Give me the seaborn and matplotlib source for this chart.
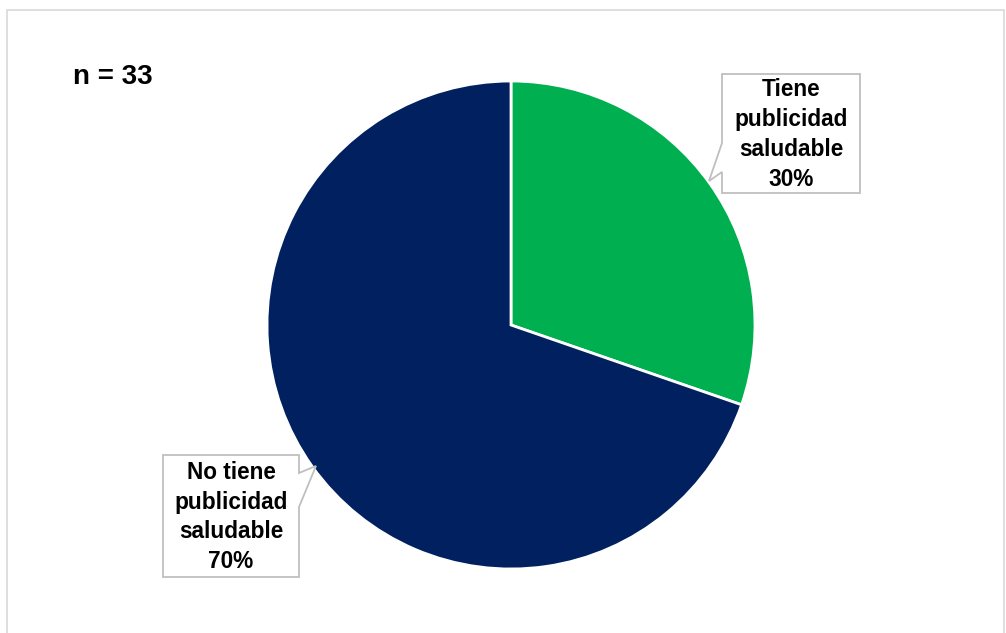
import matplotlib
matplotlib.use("Agg")
import matplotlib.pyplot as plt
import seaborn as sns
from matplotlib.patches import Polygon, Rectangle

# Data
categories = ["Tiene\npublicidad\nsaludable", "No tiene\npublicidad\nsaludable"]
counts = [10, 23]
n_total = 33
colors = ["#00B050", "#002060"]

sns.set_theme(style="white")
plt.rcParams['font.family'] = ['Liberation Sans', 'DejaVu Sans']

W, H = 1006, 633
fig = plt.figure(figsize=(W / 100, H / 100), dpi=100)
ax = fig.add_axes([0, 0, 1, 1])
ax.set_xlim(0, W)
ax.set_ylim(0, H)
ax.set_aspect('equal')
ax.axis('off')

def py(y):
    return H - y

# outer chart border
ax.add_patch(Rectangle((7, py(640)), 997, 630, fill=False, edgecolor="#D9D9D9", lw=1.2))

wedges, _ = ax.pie(counts, colors=colors, startangle=90, counterclock=False,
                   center=(511, py(325)), radius=244, frame=True,
                   wedgeprops=dict(edgecolor="white", linewidth=2))
ax.set_xlim(0, W)
ax.set_ylim(0, H)
ax.axis('off')

total = sum(counts)
pcts = [round(100 * c / total) for c in counts]

def callout(left, right, top, bottom, pointer, text):
    _, y1, y2, tx, ty = pointer
    if pointer[0] == 'left':
        pts = [(left, top), (right, top), (right, bottom), (left, bottom),
               (left, y2), (tx, ty), (left, y1)]
    else:
        pts = [(left, top), (right, top), (right, y1), (tx, ty), (right, y2),
               (right, bottom), (left, bottom)]
    poly = Polygon([(x, py(y)) for x, y in pts], closed=True, facecolor="white",
                   edgecolor="#BFBFBF", lw=1.3, zorder=5)
    ax.add_patch(poly)
    ax.text((left + right) / 2, py((top + bottom) / 2 + 1), text, ha='center', va='center',
            fontsize=16.3, fontweight='bold', color='black', linespacing=1.38, zorder=6)

callout(722, 860, 74, 193, ('left', 143, 172, 709, 181), f"{categories[0]}\n{pcts[0]}%")
callout(163, 299, 455, 577, ('right', 473, 507, 316, 466), f"{categories[1]}\n{pcts[1]}%")

ax.text(73, py(77), f"n = {n_total}", ha='left', va='center', fontsize=20,
        fontweight='bold', color='black')

fig.savefig("out.png", dpi=100)
